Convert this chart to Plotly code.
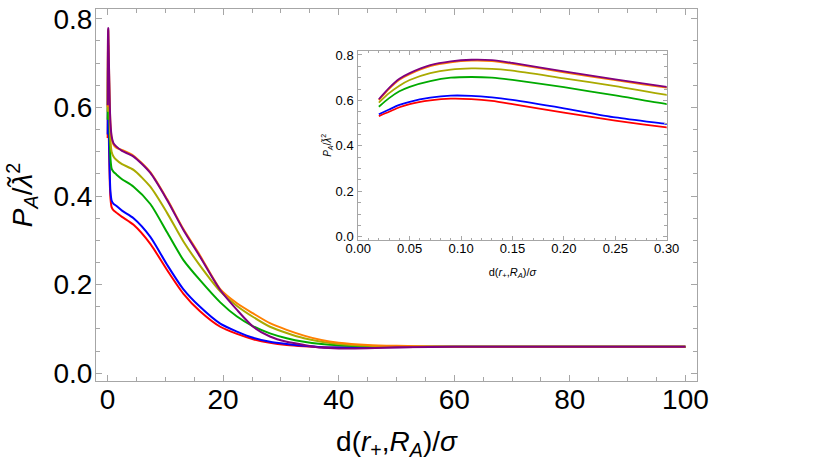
import plotly.graph_objects as go

# distance d(r+, R_A)/sigma
dist = [0.02, 0.03, 0.04, 0.05, 0.07, 0.09, 0.11, 0.13, 0.15, 0.2, 0.25, 0.3,
        0.4, 0.5, 0.7, 1.0, 1.5, 2.5, 4.5, 7.4, 10.3, 13.1, 16.0, 19.5, 22.4,
        25.2, 28.1, 31.0, 34.0, 37.0, 40.0, 45.0, 50.0, 60.0, 100.0]

p_red = [0.531, 0.550, 0.570, 0.584, 0.600, 0.608, 0.606, 0.598, 0.584, 0.546, 0.511, 0.481,
         0.425, 0.395, 0.375, 0.368, 0.363, 0.353, 0.335, 0.292, 0.233, 0.180, 0.140, 0.105, 0.089,
         0.077, 0.069, 0.064, 0.061, 0.059, 0.058, 0.058, 0.059, 0.060, 0.060]
p_blue = [0.539, 0.560, 0.580, 0.594, 0.612, 0.621, 0.620, 0.613, 0.602, 0.565, 0.525, 0.496,
          0.440, 0.410, 0.390, 0.383, 0.378, 0.367, 0.350, 0.308, 0.245, 0.190, 0.150, 0.112, 0.094,
          0.080, 0.071, 0.066, 0.062, 0.059, 0.058, 0.058, 0.059, 0.060, 0.060]
p_green = [0.572, 0.610, 0.640, 0.660, 0.685, 0.700, 0.703, 0.700, 0.690, 0.658, 0.622, 0.584,
           0.520, 0.485, 0.462, 0.455, 0.449, 0.438, 0.421, 0.382, 0.318, 0.256, 0.210, 0.160, 0.128,
           0.106, 0.090, 0.079, 0.071, 0.066, 0.063, 0.061, 0.060, 0.060, 0.060]
p_olive = [0.590, 0.632, 0.665, 0.690, 0.720, 0.736, 0.741, 0.739, 0.731, 0.697, 0.663, 0.624,
           0.560, 0.525, 0.500, 0.490, 0.482, 0.472, 0.459, 0.421, 0.362, 0.298, 0.243, 0.185, 0.152,
           0.127, 0.105, 0.091, 0.079, 0.071, 0.066, 0.062, 0.0605, 0.060, 0.060]
p_orange = [0.601, 0.651, 0.691, 0.716, 0.751, 0.768, 0.775, 0.773, 0.761, 0.724, 0.689, 0.656,
            0.597, 0.562, 0.532, 0.517, 0.509, 0.504, 0.491, 0.454, 0.393, 0.326, 0.266, 0.190, 0.158,
            0.135, 0.113, 0.098, 0.085, 0.075, 0.069, 0.064, 0.062, 0.060, 0.060]
p_purple = [0.605, 0.655, 0.695, 0.720, 0.755, 0.772, 0.779, 0.777, 0.765, 0.728, 0.693, 0.660,
            0.600, 0.565, 0.535, 0.520, 0.512, 0.502, 0.489, 0.452, 0.391, 0.324, 0.263, 0.188, 0.143,
            0.105, 0.083, 0.071, 0.064, 0.058, 0.056, 0.0565, 0.0585, 0.060, 0.060]

series = [
    (p_red, "rgb(255,0,0)"),
    (p_blue, "rgb(0,0,255)"),
    (p_green, "rgb(0,170,0)"),
    (p_olive, "rgb(170,170,0)"),
    (p_orange, "rgb(255,128,0)"),
    (p_purple, "rgb(128,0,128)"),
]

fig = go.Figure()

# main panel and inset share the same curves
for vals, col in series:
    fig.add_trace(go.Scatter(x=dist, y=vals, mode="lines",
                             line=dict(color=col, width=2, shape="spline", smoothing=0.7),
                             xaxis="x", yaxis="y", showlegend=False))
for vals, col in series:
    fig.add_trace(go.Scatter(x=dist, y=vals, mode="lines",
                             line=dict(color=col, width=1.8, shape="spline", smoothing=0.7),
                             xaxis="x2", yaxis="y2", showlegend=False))

frame = "#a6a6a6"
font = "Liberation Sans, Arial, sans-serif"

fig.update_layout(
    width=830, height=461,
    margin=dict(l=96, r=133, t=9, b=80),
    paper_bgcolor="white", plot_bgcolor="white",
    font=dict(family=font, color="black"),
    xaxis=dict(
        domain=[0, 1], range=[-2, 102], tickvals=[0, 20, 40, 60, 80, 100], automargin=False,
        ticks="inside", ticklen=6, tickcolor=frame, showline=True, linecolor=frame,
        mirror="ticks", showgrid=False, zeroline=False, tickfont=dict(size=28),
        ticklabelstandoff=-7, ticklabeloverflow="allow",
        minor=dict(dtick=5, tick0=0, ticks="inside", ticklen=4, tickcolor=frame),
        title=dict(text="d(<i>r</i><sub>+</sub>,<i>R</i><sub><i>A</i></sub>)/<i>σ</i>",
                   font=dict(size=28), standoff=26),
    ),
    yaxis=dict(
        domain=[0, 1], range=[-0.0174, 0.822], tickvals=[0, 0.2, 0.4, 0.6, 0.8],
        tickformat=".1f", automargin=False,
        ticks="inside", ticklen=6, tickcolor=frame, showline=True, linecolor=frame,
        mirror="ticks", showgrid=False, zeroline=False, tickfont=dict(size=28),
        ticklabelstandoff=-3, ticklabeloverflow="allow",
        minor=dict(dtick=0.05, tick0=0, ticks="inside", ticklen=4, tickcolor=frame),
        title=dict(text="<i>P</i><sub><i>A</i></sub>/<i>λ̃</i><sup>2</sup>",
                   font=dict(size=28), standoff=12),
    ),
    xaxis2=dict(
        domain=[0.4364, 0.9496], anchor="y2", range=[0, 0.3], automargin=False,
        tickvals=[0, 0.05, 0.1, 0.15, 0.2, 0.25, 0.3], tickformat=".2f",
        ticks="inside", ticklen=4, tickcolor=frame, showline=True, linecolor=frame,
        mirror="ticks", showgrid=False, zeroline=False, tickfont=dict(size=13),
        ticklabelstandoff=-4,
        minor=dict(dtick=0.01, tick0=0, ticks="inside", ticklen=2.5, tickcolor=frame),
        title=dict(text="d(<i>r</i><sub>+</sub>,<i>R</i><sub><i>A</i></sub>)/<i>σ</i>",
                   font=dict(size=11), standoff=13),
    ),
    yaxis2=dict(
        domain=[0.379, 0.888], anchor="x2", range=[-0.0145, 0.819], automargin=False,
        tickvals=[0, 0.2, 0.4, 0.6, 0.8], tickformat=".1f",
        ticks="inside", ticklen=4, tickcolor=frame, showline=True, linecolor=frame,
        mirror="ticks", showgrid=False, zeroline=False, tickfont=dict(size=13),
        ticklabelstandoff=1,
        minor=dict(dtick=0.05, tick0=0, ticks="inside", ticklen=2.5, tickcolor=frame),
        title=dict(text="<i>P</i><sub><i>A</i></sub>/<i>λ̃</i><sup>2</sup>",
                   font=dict(size=10), standoff=2),
    ),
)

# drop the default 8px body margin so the figure fills the window exactly
fig.write_html("out.html", config={"displayModeBar": False},
               post_script="document.body.style.margin = '0';")
